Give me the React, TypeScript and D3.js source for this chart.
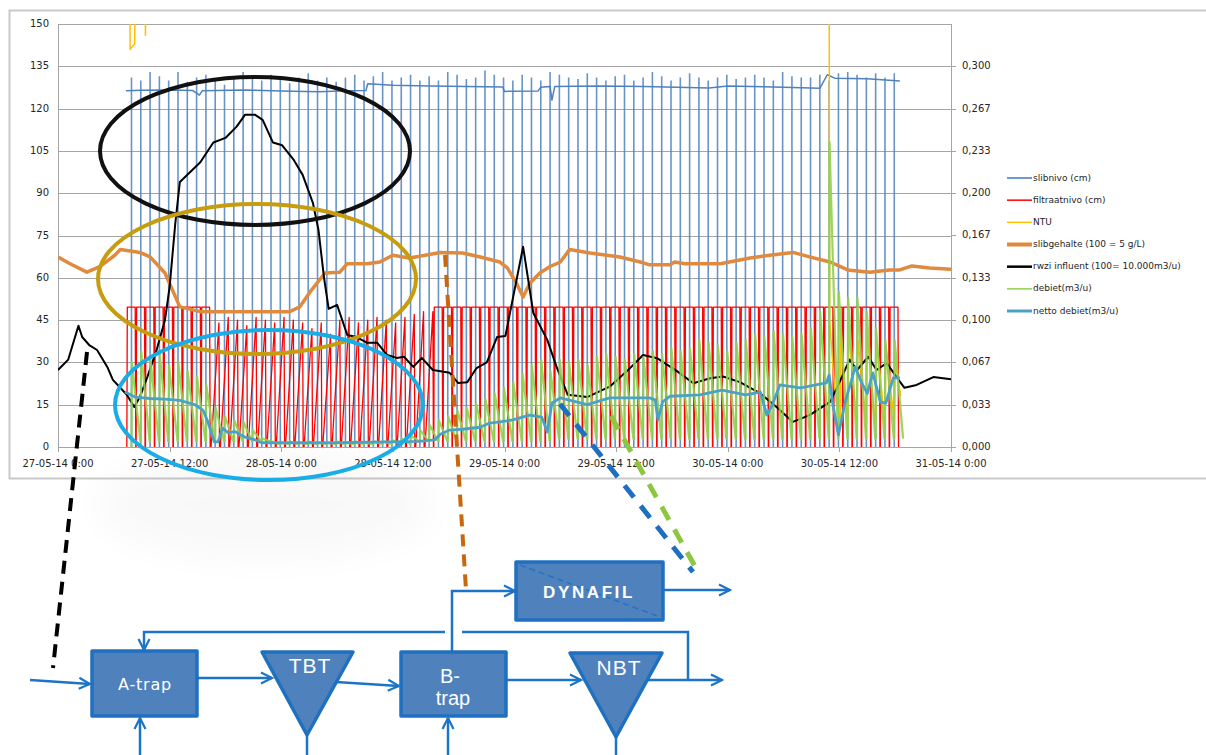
import React from 'react';
import * as d3 from 'd3';

type Pt = [number, number];

// hours since 27-05-14 0:00 on x, left-axis units on y
const seriesNames = [
  'slibnivo (cm)',
  'filtraatnivo (cm)',
  'NTU',
  'slibgehalte (100 = 5 g/L)',
  'rwzi influent (100= 10.000m3/u)',
  'debiet(m3/u)',
  'netto debiet(m3/u)'
];
const leftTicks = [0, 15, 30, 45, 60, 75, 90, 105, 120, 135, 150];
const rightTicks = [0, 0.0333, 0.0667, 0.1, 0.1333, 0.1667, 0.2, 0.2333, 0.2667, 0.3];
const hourRange = [0, 96];
const firstCycleHour = 7.9; // pump cycles are logged once an hour

const slibnivoPeaks = [
  131, 130, 133, 131.5, 130, 133, 129.5, 131, 132, 130,
  128.5, 131, 133, 131, 130, 132, 130.5, 129, 131, 132.5,
  130, 131, 129.5, 131, 132, 130, 131.5, 133, 130, 131,
  132, 130, 131.5, 130, 133, 132, 130.5, 131, 133.5, 132,
  131, 130, 132, 131, 130, 133, 132, 131, 130.5, 132.5,
  131, 130, 131.5, 132, 130, 131, 133, 131.5, 130, 131,
  132.5, 131, 130, 131, 132, 130.5, 131, 132, 131, 130,
  133, 131.5, 131, 131, 132, 130, 132.5, 133, 132, 131,
  132.5, 131, 132.5
];
const slibnivoLevel: Pt[] = [
  [7.3, 126.3], [9, 126.5], [12, 126.6], [14.5, 126.4], [15.2, 124.8], [15.5, 126.3],
  [20, 126.6], [24, 126.2], [28, 126], [31, 126.3], [33.1, 126.4], [33.3, 128.8],
  [36, 128.3], [40, 128], [44, 127.8], [47.8, 127.7], [48, 126.1], [51.6, 126.2],
  [51.9, 127.6], [52.9, 127.8], [53.1, 123], [53.4, 127.8], [58, 128], [63, 127.8],
  [70, 127.3], [72, 128], [78, 127.6], [81.9, 127.2], [82.7, 132], [83.5, 130.8],
  [87, 130.6], [90.5, 129.8]
];
const filtraatLow = [
  49.6, 49.6, 49.6, 49.6, 49.6, 49.6, 49.6, 49.6, 49.6, 0,
  0, 0, 0, 0, 0, 0, 0, 0, 0, 0,
  0, 0, 0, 0, 0, 0, 0, 0, 0, 0,
  0, 0, 0, 49.6, 49.6, 49.6, 49.6, 49.6, 49.6, 49.6,
  49.6, 49.6, 49.6, 49.6, 49.6, 49.6, 49.6, 49.6, 49.6, 49.6,
  49.6, 49.6, 49.6, 49.6, 49.6, 49.6, 49.6, 49.6, 49.6, 49.6,
  49.6, 49.6, 49.6, 49.6, 49.6, 49.6, 49.6, 49.6, 49.6, 49.6,
  49.6, 49.6, 49.6, 49.6, 49.6, 49.6, 49.6, 49.6, 49.6, 49.6,
  49.6, 49.6, 49.6
];
const filtraatHigh = [
  49.6, 49.6, 49.6, 49.6, 49.6, 49.6, 49.6, 49.6, 49.6, 44,
  46, 45, 43, 46, 45, 44, 46, 45, 44, 42,
  44, 40, 45, 46, 44, 45, 46, 45, 44, 46,
  47, 48, 48, 49.6, 49.6, 49.6, 49.6, 49.6, 49.6, 49.6,
  49.6, 49.6, 49.6, 49.6, 49.6, 49.6, 49.6, 49.6, 49.6, 49.6,
  49.6, 49.6, 49.6, 49.6, 49.6, 49.6, 49.6, 49.6, 49.6, 49.6,
  49.6, 49.6, 49.6, 49.6, 49.6, 49.6, 49.6, 49.6, 49.6, 49.6,
  49.6, 49.6, 49.6, 49.6, 49.6, 49.6, 49.6, 49.6, 49.6, 49.6,
  49.6, 49.6, 49.6
];
const ntu: Pt[] = [
  [7.3, 320], [7.7, 200], [7.75, 141], [8.25, 143], [8.35, 200], [9.3, 200],
  [9.4, 146], [9.55, 200], [10, 320], [82.85, 320], [82.95, 45], [83.5, 20],
  [84.1, 9], [84.15, 42], [84.9, 8], [85, 40], [85.9, 8], [86, 38], [86.9, 7],
  [87, 40], [87.9, 7], [88, 38], [88.9, 8], [89, 36], [89.9, 9], [90, 30], [90.6, 18]
];
const slibgehalte: Pt[] = [
  [0, 67.4], [1.3, 65], [3.1, 62], [4.5, 64], [6.1, 68], [6.7, 70], [8.8, 69], [9.9, 67.4],
  [11.5, 61.7], [13.1, 49.7], [15.3, 48], [24.9, 48], [26, 49.7], [27.1, 55], [28.7, 61.7],
  [30.3, 62], [31.1, 65], [33.2, 65], [34.6, 65.6], [36, 68], [37.8, 67], [41.1, 69],
  [43.5, 68.8], [45.4, 67.4], [47.5, 65.6], [48.3, 63.5], [49.3, 58], [50, 53.2], [50.7, 58],
  [51.8, 61.7], [52.9, 64], [54, 65.6], [55, 70], [57.2, 68.8], [60.4, 67.4], [62.6, 65.6],
  [63.6, 64.6], [65.8, 64.6], [66.3, 65.6], [67.4, 65], [71.2, 65], [74.4, 67], [76.5, 68],
  [79, 69], [80.8, 67.4], [83, 65.6], [84.9, 62.8], [87.3, 62], [89.4, 62.8], [90.5, 62.8],
  [91.8, 64.2], [93.7, 63.5], [96, 63]
];
const rwziInfluent: Pt[] = [
  [0, 27.3], [1.1, 31], [2.2, 43], [2.6, 39], [3.4, 36], [4.2, 34.4], [5.3, 28.4], [5.9, 23.8],
  [6.7, 21], [7.4, 18.5], [8.2, 14.2], [8.8, 17.7], [9.6, 24.8], [10.6, 34.4], [11.5, 45],
  [12, 56.8], [12.6, 79], [13.1, 94], [15.3, 101], [16.7, 108], [18, 109.6], [19.2, 113.6],
  [20.1, 117.8], [21.2, 117.8], [22, 116], [23.1, 108], [24.1, 107], [25.3, 102], [26.3, 96.5],
  [27.4, 86.6], [28, 77], [28.6, 60], [29.1, 49], [30, 50.4], [31.1, 39.7], [32.1, 39],
  [33.2, 37], [34.3, 37], [35.4, 32.6], [36.4, 31.6], [37.2, 32], [38.2, 28.4], [39.1, 31.6],
  [40.3, 27.3], [42.1, 26.3], [43, 22.7], [44, 23], [45, 28], [46.1, 30], [47.2, 39],
  [48.1, 39.4], [50, 71], [51.1, 47.5], [52.6, 38], [53.6, 28.4], [54.8, 18.5], [56.9, 17.7],
  [59.3, 21.4], [61.2, 27], [62.9, 32.6], [64.4, 31.5], [66.5, 27], [68.3, 22.6], [70.1, 24.4],
  [71.5, 25], [73.3, 23], [75.5, 19], [77.3, 14], [79, 8.9], [80.8, 11.3], [83, 16],
  [83.8, 21.4], [85.1, 31], [85.9, 27.3], [87.1, 32], [88, 27.3], [89.1, 29.8], [90.2, 24.5],
  [91, 21], [92.3, 22], [94.1, 24.8], [96, 24]
];
const debietPeaks = [
  30, 34, 31, 33, 29, 30, 27, 25, 22, 14,
  11, 9.5, 9, 6, 3, 2, 1.5, 2, 1.5, 2,
  1.5, 1.5, 2, 1.5, 2, 1.5, 2, 2, 2.5, 3,
  4, 6, 8, 9.5, 11, 13, 14, 15.5, 17, 19,
  21, 23, 26, 29, 31, 27, 31, 30, 31, 29,
  32, 33, 32, 31, 33, 32, 34, 33, 35, 34,
  35, 38, 37, 36, 34, 37, 38, 40, 39, 41,
  40, 39, 40, 42, 48, 108, 55, 53, 53, 48,
  42, 38, 38
];
const debietLow = [
  2, 2, 2, 2, 2, 2, 2, 2, 2, 2,
  2, 2, 2, 2, 2, 1, 1, 1, 1, 1,
  1, 1, 1, 1, 1, 1, 1, 1, 1, 1,
  2, 2, 2, 2, 2, 2, 2, 2, 2, 2,
  2, 2, 2, 2, 2, 3, 3, 3, 3, 3,
  3, 3, 3, 3, 3, 3, 3, 3, 3, 3,
  3, 3, 3, 3, 3, 3, 3, 3, 3, 3,
  3, 3, 3, 3, 3, 3, 3, 3, 3, 3,
  3, 3, 3
];
const nettoDebiet: Pt[] = [
  [7.2, 19.5], [8.3, 17.7], [9.9, 17.2], [11.5, 17], [13.1, 16.5], [14.7, 15], [15.6, 13],
  [16.1, 9], [16.8, 1.8], [17.2, 1.8], [17.7, 6.7], [18.3, 5], [19, 5.5], [20.1, 3.5],
  [21.2, 2.5], [21.9, 1.5], [30, 1.5], [38.8, 2], [40.5, 2.5], [41.1, 4.5], [42.1, 6],
  [43.5, 6.3], [45.4, 7], [46.4, 8.5], [47.5, 8.9], [48.9, 9.6], [50.7, 11.3], [52, 10.6],
  [52.6, 5.3], [53.1, 15.6], [54, 17.4], [56.9, 15], [59.3, 17.4], [63.6, 17.4], [64.2, 16.7],
  [64.5, 9.6], [65, 16], [65.8, 18], [69, 18.5], [71.4, 20.2], [73.9, 18.5], [75.5, 19.5],
  [76.2, 11.3], [76.8, 15], [77.6, 22], [79.8, 21], [82.6, 22.7], [82.9, 25.5], [83.3, 15],
  [83.9, 4.3], [84.6, 15.6], [85.7, 28.4], [86.4, 22.7], [87, 19], [87.6, 26.3], [88.4, 16],
  [89, 15.6], [89.8, 24.5], [90.5, 24.5]
];

const hourDate = (h: number) => new Date(2014, 4, 27, 0, 0, 0, Math.round(h * 3600000));

const plot = { left: 58, right: 951, top: 24, bottom: 447 };
const legendStyle = [
  { color: '#6f98cf', width: 2 },
  { color: '#ff0000', width: 1.5 },
  { color: '#ffc000', width: 1.5 },
  { color: '#df8a3e', width: 4 },
  { color: '#000000', width: 2.5 },
  { color: '#92d050', width: 1.5 },
  { color: '#4aa3c6', width: 3 }
];
const font = 'DejaVu Sans, Verdana, sans-serif';
const flowBlue = '#1c74c6';
const boxFill = '#4f81bd';

export default function App() {
  const x = d3
    .scaleTime()
    .domain([hourDate(hourRange[0]), hourDate(hourRange[1])])
    .range([plot.left, plot.right]);
  const y = d3.scaleLinear().domain([0, 150]).range([plot.bottom, plot.top]);
  const y2 = d3.scaleLinear().domain([0, 1 / 3]).range([plot.bottom, plot.top]);
  const xh = (h: number) => x(hourDate(h));
  const line = d3
    .line<Pt>()
    .x(d => xh(d[0]))
    .y(d => y(d[1]));

  const cycleHours = slibnivoPeaks.map((_, i) => firstCycleHour + i);

  const spikes = cycleHours
    .map((h, i) => `M${xh(h)},${y(0)}V${y(slibnivoPeaks[i])}`)
    .join('');

  const filtraatPts: Pt[] = [];
  cycleHours.forEach((h, i) => {
    const a = h - 0.5;
    filtraatPts.push([a, 0], [a + 0.05, filtraatLow[i]], [a + 0.9, filtraatHigh[i]], [a + 0.96, 0]);
  });

  const debietPts: Pt[] = [];
  cycleHours.forEach((h, i) => {
    debietPts.push([h, i > 0 ? debietLow[i - 1] : 0], [h + 0.04, debietPeaks[i]], [h + 0.95, debietLow[i]]);
  });

  const xTicks = x.ticks(d3.timeHour.every(12)!);
  const fmtDate = d3.timeFormat('%d-%m-%y %-H:%M');
  const fmtRight = (v: number) => d3.format('.3f')(v).replace('.', ',');

  const legendY = d3.scalePoint<string>().domain(seriesNames).range([178, 311]);

  return (
    <svg
      width={1206}
      height={755}
      style={{ position: 'absolute', left: 0, top: 0, background: '#fff' }}
    >
      <defs>
        <clipPath id="plotClip">
          <rect x={plot.left} y={plot.top} width={plot.right - plot.left} height={plot.bottom - plot.top} />
        </clipPath>
        <filter id="soft" x="-50%" y="-50%" width="200%" height="200%">
          <feGaussianBlur stdDeviation="18" />
        </filter>
        <marker id="arr" viewBox="0 0 14 14" refX="12.5" refY="7" markerWidth="14" markerHeight="14" markerUnits="userSpaceOnUse" orient="auto">
          <path d="M1.5,1.5 L12.5,7 L1.5,12.5" fill="none" stroke={flowBlue} strokeWidth="2.2" />
        </marker>
      </defs>

      {/* chart frame */}
      <rect x={9.5} y={10.5} width={1210} height={468} fill="#fff" stroke="#c9c9c9" strokeWidth={2} />

      {/* soft shadow of the ellipses */}
      <ellipse cx={265} cy={505} rx={170} ry={55} fill="#000" opacity={0.025} filter="url(#soft)" />

      {/* grid */}
      <g stroke="#a5a5a5" strokeWidth={1}>
        {leftTicks.map(v => (
          <line key={v} x1={plot.left} x2={plot.right} y1={Math.round(y(v)) + 0.5} y2={Math.round(y(v)) + 0.5} />
        ))}
        <line x1={plot.left + 0.5} x2={plot.left + 0.5} y1={plot.top} y2={plot.bottom} />
        <line x1={plot.right + 0.5} x2={plot.right + 0.5} y1={plot.top} y2={plot.bottom} />
        {rightTicks.map(v => (
          <line key={v} x1={plot.right} x2={plot.right + 5} y1={Math.round(y2(v)) + 0.5} y2={Math.round(y2(v)) + 0.5} />
        ))}
        {xTicks.map(d => (
          <line key={+d} x1={Math.round(x(d)) + 0.5} x2={Math.round(x(d)) + 0.5} y1={plot.bottom} y2={plot.bottom + 5} />
        ))}
      </g>

      {/* axis labels */}
      <g fontFamily={font} fontSize={10} fill="#262626">
        {leftTicks.map(v => (
          <text key={v} x={49} y={y(v)} textAnchor="end" dominantBaseline="middle">
            {v}
          </text>
        ))}
        {rightTicks.map(v => (
          <text key={v} x={962} y={y2(v)} dominantBaseline="middle">
            {fmtRight(v)}
          </text>
        ))}
        {xTicks.map(d => (
          <text key={+d} x={x(d)} y={464} textAnchor="middle" dominantBaseline="middle">
            {fmtDate(d)}
          </text>
        ))}
      </g>

      {/* series */}
      <g clipPath="url(#plotClip)" fill="none" strokeLinejoin="round">
        <path d={spikes} stroke="#4f81bd" strokeWidth={1.6} opacity={0.85} />
        <path d={line(slibnivoLevel)!} stroke="#4f81bd" strokeWidth={1.5} />
        <path d={line(filtraatPts)!} stroke="#ff0000" strokeWidth={1.3} />
        <path d={line(ntu)!} stroke="#ffc000" strokeWidth={1.5} />
        <path d={line(slibgehalte)!} stroke="#df8a3e" strokeWidth={3.5} />
        <path d={line(rwziInfluent)!} stroke="#000" strokeWidth={2} />
        <path d={line(debietPts)!} stroke="#92d050" strokeWidth={2.2} opacity={0.9} />
        <path d={line(nettoDebiet)!} stroke="#4aa3c6" strokeWidth={2.8} />
      </g>

      {/* legend */}
      <g fontFamily={font} fontSize={9} fill="#262626">
        {seriesNames.map((name, i) => (
          <g key={name} transform={`translate(0, ${legendY(name)})`}>
            <line x1={1007} x2={1032} stroke={legendStyle[i].color} strokeWidth={legendStyle[i].width} />
            <text x={1033} dominantBaseline="middle">
              {name}
            </text>
          </g>
        ))}
      </g>

      {/* annotation ellipses */}
      <g fill="none" strokeWidth={4}>
        <ellipse cx={255} cy={151} rx={155} ry={74} stroke="#111" />
        <ellipse cx={257} cy={279} rx={159} ry={75} stroke="#c69d0e" />
        <ellipse cx={269} cy={405} rx={154} ry={75} stroke="#18ade6" />
      </g>

      {/* dashed connectors */}
      <g fill="none">
        <line x1={87} y1={352} x2={53} y2={668} stroke="#000" strokeWidth={4} strokeDasharray="13 8" />
        <line x1={445} y1={255} x2={466} y2={590} stroke="#c8680e" strokeWidth={4} strokeDasharray="12 8" />
        <line x1={560} y1={404} x2={693} y2={572} stroke="#1e6fc0" strokeWidth={5} strokeDasharray="15 11" />
        <line x1={611} y1={416} x2={697} y2={570} stroke="#8dc641" strokeWidth={5} strokeDasharray="15 11" />
      </g>

      {/* process flow */}
      <g fill="none" stroke={flowBlue} strokeWidth={2.5}>
        <line x1={30} y1={680} x2={90} y2={684} markerEnd="url(#arr)" />
        <line x1={197} y1={678} x2={272} y2={678} markerEnd="url(#arr)" />
        <line x1={336} y1={682} x2={399} y2={686} markerEnd="url(#arr)" />
        <line x1={506} y1={680} x2={581} y2={680} markerEnd="url(#arr)" />
        <line x1={648} y1={680} x2={722} y2={680} markerEnd="url(#arr)" />
        <polyline points="452,652 452,591 515,591" markerEnd="url(#arr)" />
        <line x1={663} y1={590} x2={730} y2={590} markerEnd="url(#arr)" />
        <polyline points="688,680 688,632 462,632" />
        <polyline points="445,632 144,632 144,650" markerEnd="url(#arr)" />
        <line x1={140} y1={755} x2={140} y2={718} markerEnd="url(#arr)" />
        <line x1={448} y1={755} x2={448} y2={718} markerEnd="url(#arr)" />
        <line x1={307} y1={735} x2={307} y2={755} />
        <line x1={616} y1={737} x2={616} y2={755} />
      </g>
      <g fill={boxFill} stroke="#1f70c0" strokeWidth={3.5} strokeLinejoin="round">
        <rect x={92} y={651} width={105} height={65} />
        <polygon points="262,652 353,652 307,735" />
        <rect x={401} y={652} width={105} height={64} />
        <polygon points="570,653 662,653 616,737" />
        <rect x={516} y={562} width={147} height={58} />
      </g>
      <line x1={520} y1={565} x2={660} y2={617} stroke="#1f70c0" strokeWidth={1.3} strokeDasharray="6 4" />
      <g fill="#fff" textAnchor="middle">
        <text x={145} y={690} fontFamily={font} fontSize={16} letterSpacing={0.8}>A-trap</text>
        <text x={310} y={673} fontFamily="Liberation Sans, Arial, sans-serif" fontSize={21} letterSpacing={1}>TBT</text>
        <text x={450} y={683} fontFamily="Liberation Sans, Arial, sans-serif" fontSize={20}>B-</text>
        <text x={453} y={705} fontFamily="Liberation Sans, Arial, sans-serif" fontSize={20}>trap</text>
        <text x={619} y={675} fontFamily="Liberation Sans, Arial, sans-serif" fontSize={21} letterSpacing={1}>NBT</text>
        <text x={589} y={598} fontFamily="Liberation Sans, Arial, sans-serif" fontSize={17} fontWeight="bold" letterSpacing={2.6}>DYNAFIL</text>
      </g>
    </svg>
  );
}
